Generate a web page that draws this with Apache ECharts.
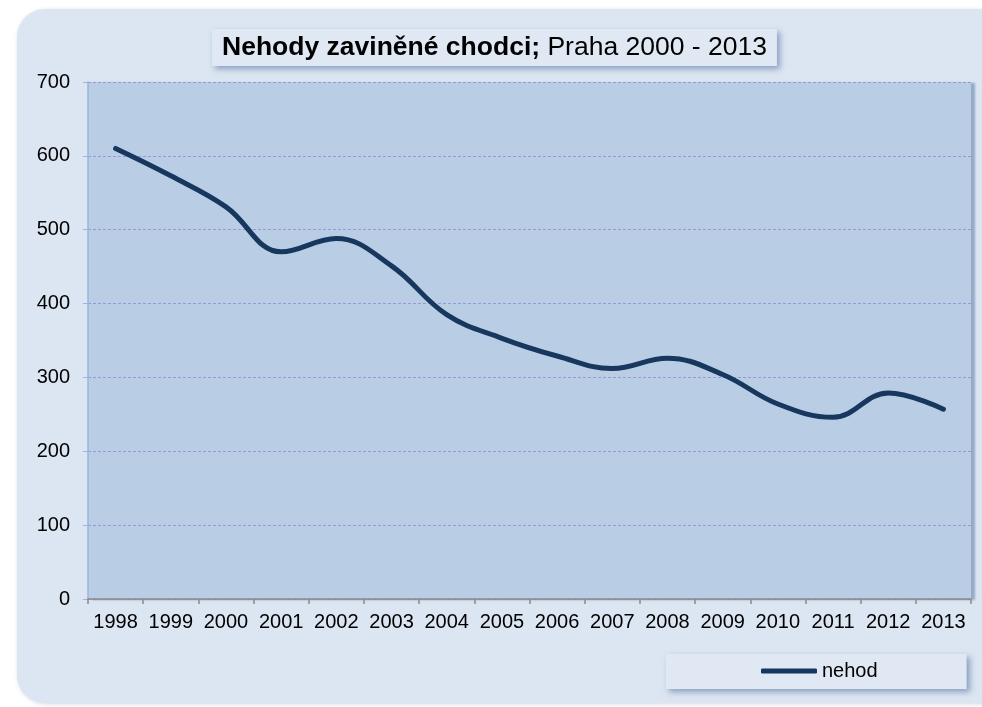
<!DOCTYPE html>
<html>
<head>
<meta charset="utf-8">
<script src="https://cdn.jsdelivr.net/npm/echarts@6/dist/echarts.min.js"></script>
<style>
html,body{margin:0;padding:0;background:#ffffff;}
#chart{width:982px;height:707px;}
</style>
</head>
<body>
<div id="chart"></div>
<script>
const years = ['1998','1999','2000','2001','2002','2003','2004','2005','2006','2007','2008','2009','2010','2011','2012','2013'];
const nehod = [610, 573, 531, 470, 488, 451, 385, 353, 329, 312, 326, 304, 264, 246, 279, 257];
const yTicks = [0, 100, 200, 300, 400, 500, 600, 700];
const seriesName = 'nehod';
const titleBold = 'Nehody zaviněné chodci;';
const titleNormal = ' Praha 2000 - 2013';

const chart = echarts.init(document.getElementById('chart'), null, {renderer: 'canvas'});
const font = 'Liberation Sans, Arial, sans-serif';
chart.setOption({
  animation: false,
  backgroundColor: '#ffffff',
  graphic: [{
    type: 'rect', z: -10, silent: true,
    shape: {x: 17, y: 9, width: 995, height: 694, r: 28},
    style: {fill: '#dce6f2', shadowBlur: 4, shadowColor: 'rgba(120,140,170,0.35)', shadowOffsetX: 1, shadowOffsetY: 1}
  }],
  title: {
    text: '{b|' + titleBold + '}{n|' + titleNormal + '}',
    left: 212, top: 29,
    padding: [5, 10, 5, 10],
    backgroundColor: '#dfe8f3',
    shadowColor: 'rgba(70,100,150,0.55)', shadowBlur: 6, shadowOffsetX: 3, shadowOffsetY: 3,
    textStyle: {
      rich: {
        b: {fontFamily: font, fontWeight: 'bold', fontSize: 26.5, color: '#000000', lineHeight: 27},
        n: {fontFamily: font, fontWeight: 'normal', fontSize: 26.5, color: '#000000', lineHeight: 27}
      }
    }
  },
  legend: {
    data: [seriesName],
    left: 666, top: 654,
    padding: [7, 89, 8, 95],
    backgroundColor: '#dfe8f3',
    shadowColor: 'rgba(70,100,150,0.55)', shadowBlur: 6, shadowOffsetX: 3, shadowOffsetY: 3,
    icon: 'roundRect',
    itemWidth: 56, itemHeight: 5,
    itemStyle: {color: '#17375e'},
    textStyle: {fontFamily: font, fontSize: 20, color: '#000000'}
  },
  grid: {
    left: 88, right: 11, top: 82, bottom: 108,
    show: true,
    backgroundColor: '#b9cde5',
    borderWidth: 0, borderColor: 'transparent',
    shadowColor: 'rgba(80,110,160,0.5)', shadowBlur: 2, shadowOffsetX: 4, shadowOffsetY: 1
  },
  xAxis: {
    type: 'category',
    data: years,
    boundaryGap: true,
    axisLine: {lineStyle: {color: '#8a8a8a', width: 1.5}},
    axisTick: {show: true, interval: 0, length: 5, lineStyle: {color: '#8a8a8a', width: 1.5}},
    axisLabel: {interval: 0, fontFamily: font, fontSize: 20, color: '#000000', margin: 13},
    splitLine: {show: false}
  },
  yAxis: {
    type: 'value',
    min: yTicks[0], max: yTicks[yTicks.length - 1], interval: 100,
    axisLine: {show: true, lineStyle: {color: '#9ab5d9', width: 1.5}},
    axisTick: {show: true, length: 5, lineStyle: {color: '#9ab5d9'}},
    axisLabel: {fontFamily: font, fontSize: 20, color: '#000000', margin: 18},
    splitLine: {show: true, lineStyle: {color: 'rgba(140,120,210,0.65)', type: [3, 2], width: 1}}
  },
  series: [{
    name: seriesName,
    type: 'line',
    data: nehod,
    smooth: 0.4,
    showSymbol: false,
    symbol: 'none',
    lineStyle: {color: '#17375e', width: 5, cap: 'round', join: 'round'},
    itemStyle: {color: '#17375e'}
  }]
});
</script>
</body>
</html>
